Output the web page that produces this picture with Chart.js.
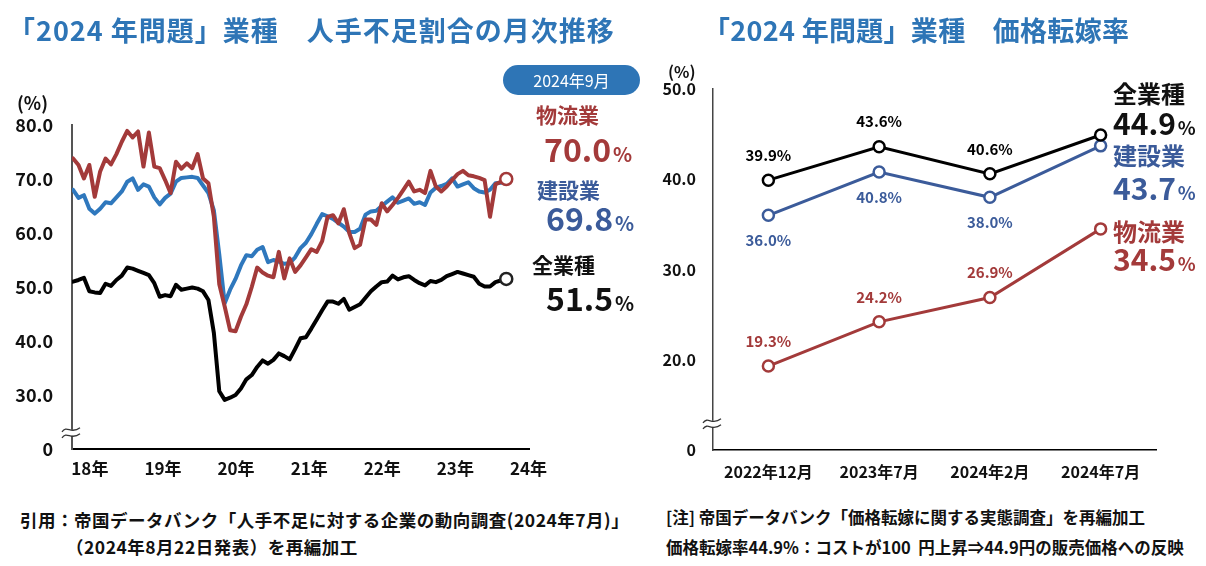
<!DOCTYPE html>
<html><head><meta charset="utf-8">
<script src="https://cdn.jsdelivr.net/npm/chart.js@4.4.0/dist/chart.umd.min.js"></script>
<style>
html,body{margin:0;padding:0;background:#fff;}
body{width:1206px;height:566px;position:relative;overflow:hidden;font-family:"Noto Sans CJK JP","Noto Sans",sans-serif;}
.t{position:absolute;white-space:nowrap;line-height:1;font-weight:bold;}
canvas{position:absolute;}
.red{color:#A33A3A;} .blue{color:#3B5B9A;} .blk{color:#111;}
.pct{font-size:0.62em;margin-left:2px;}
</style></head><body>
<canvas id="left" width="600" height="500" style="left:0;top:0;"></canvas>
<canvas id="right" width="556" height="500" style="left:650px;top:0;"></canvas>

<div class="t" style="left:8px;top:16px;font-size:27px;letter-spacing:1px;color:#2E75B6;">「2024 年問題」業種　人手不足割合の月次推移</div>
<div class="t" style="left:703px;top:16px;font-size:27px;letter-spacing:0.3px;color:#2E75B6;">「2024 年問題」業種　価格転嫁率</div>

<div class="t" style="left:17px;top:93px;font-size:18px;color:#111;">(%)</div>
<div class="t" style="left:668px;top:63px;font-size:16px;color:#111;">(%)</div>

<div class="t" style="left:503px;top:65px;width:137px;height:30px;border-radius:15px;background:#2E75B6;color:#fff;font-size:16px;font-weight:normal;text-align:center;line-height:30px;">2024年9月</div>

<div class="t red" style="left:536px;top:104px;font-size:21px;">物流業</div>
<div class="t red" style="left:544px;top:132px;font-size:32px;"><span id="lLogi"></span><span class="pct">%</span></div>
<div class="t blue" style="left:537px;top:179px;font-size:21px;">建設業</div>
<div class="t blue" style="left:546px;top:201px;font-size:32px;"><span id="lCons"></span><span class="pct">%</span></div>
<div class="t blk" style="left:532px;top:254px;font-size:21px;">全業種</div>
<div class="t blk" style="left:546px;top:281px;font-size:32px;"><span id="lAll"></span><span class="pct">%</span></div>

<div class="t blk" style="left:1113px;top:81px;font-size:24px;">全業種</div>
<div class="t blk" style="left:1113px;top:107px;font-size:30px;"><span id="rAll"></span><span class="pct">%</span></div>
<div class="t blue" style="left:1113px;top:143px;font-size:24px;">建設業</div>
<div class="t blue" style="left:1113px;top:172px;font-size:30px;"><span id="rCons"></span><span class="pct">%</span></div>
<div class="t red" style="left:1113px;top:219px;font-size:24px;">物流業</div>
<div class="t red" style="left:1113px;top:243px;font-size:30px;"><span id="rLogi"></span><span class="pct">%</span></div>

<div class="t blk" style="left:20px;top:511px;font-size:17.5px;letter-spacing:0.5px;">引用：帝国データバンク「人手不足に対する企業の動向調査(2024年7月)」</div>
<div class="t blk" style="left:66px;top:538px;font-size:17.5px;letter-spacing:0.5px;">（2024年8月22日発表）を再編加工</div>
<div class="t blk" style="left:666px;top:509px;font-size:16.5px;">[注] 帝国データバンク「価格転嫁に関する実態調査」を再編加工</div>
<div class="t blk" style="left:666px;top:539px;font-size:16.5px;">価格転嫁率44.9%：コストが100&nbsp;&nbsp;円上昇⇒44.9円の販売価格への反映</div>

<script>
// ---------- Data: monthly shortage ratio (2018/1 - 2024/9) ----------
const logistics = [73.8,72.6,70.1,72.6,66.7,71.4,73.8,72.7,74.6,76.9,
  78.9,77.7,78.8,72.3,78.6,72.3,72.0,69.8,67.4,73.2,
  71.9,72.9,72.0,74.6,70.1,69.2,63.0,50.5,46.4,42.0,
  41.8,44.5,46.8,50.0,53.6,52.7,52.1,51.8,56.5,51.6,
  55.3,52.8,54.0,55.5,57.0,56.5,58.5,63.0,63.3,61.8,
  64.4,60.0,57.2,57.8,62.5,62.5,61.5,65.5,64.0,65.2,
  66.5,68.0,69.5,67.7,68.0,67.4,71.5,68.6,67.7,68.6,
  69.8,70.9,71.5,70.7,70.5,70.2,69.8,63.0,69.0,69.5,70.0];
const construction = [68.0,66.5,67.0,64.5,63.6,64.5,65.7,65.5,66.6,67.7,
  69.5,70.1,68.0,69.0,68.6,66.6,65.3,66.5,67.3,69.5,
  70.2,70.3,70.4,70.2,68.8,67.4,64.2,56.0,47.0,49.5,
  51.5,54.0,55.9,55.7,56.9,57.4,54.6,55.0,54.7,54.3,
  54.4,55.5,57.2,58.2,59.8,61.7,63.5,63.1,62.6,61.9,
  61.2,60.2,60.2,60.8,63.4,64.0,64.1,65.0,65.8,66.6,
  65.6,66.0,66.4,65.4,65.7,65.2,67.5,68.4,68.7,69.1,
  70.1,68.6,69.0,69.4,68.3,67.7,67.5,68.0,69.2,69.3,69.8];
const allIndustry = [51.0,51.3,51.7,49.2,49.0,48.9,50.6,50.2,51.3,52.1,
  53.6,53.4,53.0,52.6,52.2,50.7,48.2,48.5,48.3,50.4,
  49.5,49.7,49.9,49.7,49.2,47.6,41.5,30.7,29.1,29.5,
  30.0,31.2,32.9,33.7,35.2,36.4,35.8,36.5,37.7,37.2,
  36.6,38.5,40.5,40.7,42.3,44.0,45.7,47.3,47.3,46.9,
  47.8,45.8,46.3,46.8,48.0,49.2,50.1,50.9,51.0,52.1,
  51.4,51.8,52.0,51.3,50.7,50.3,51.1,50.9,51.3,52.0,
  52.4,52.8,52.5,52.2,51.9,50.6,50.1,50.1,50.9,51.2,51.5];
const yearLabels = ['18年','19年','20年','21年','22年','23年','24年'];
const leftYTicks = [20,30,40,50,60,70,80]; // 20 shown as "0" (broken axis)

// ---------- Data: price pass-through rate ----------
const periods = ['2022年12月','2023年7月','2024年2月','2024年7月'];
const passAll = [39.9,43.6,40.6,44.9];
const passConstruction = [36.0,40.8,38.0,43.7];
const passLogistics = [19.3,24.2,26.9,34.5];

const RED = '#A33A3A', BLUE_L = '#2F78BD', BLUE_R = '#3B5B9A', BLACK = '#000';
const FONT = '"Noto Sans CJK JP","Noto Sans",sans-serif';
Chart.defaults.font.family = FONT;
Chart.defaults.color = '#111';

document.getElementById('lLogi').textContent = logistics[logistics.length-1].toFixed(1);
document.getElementById('lCons').textContent = construction[construction.length-1].toFixed(1);
document.getElementById('lAll').textContent = allIndustry[allIndustry.length-1].toFixed(1);
document.getElementById('rAll').textContent = passAll[3].toFixed(1);
document.getElementById('rCons').textContent = passConstruction[3].toFixed(1);
document.getElementById('rLogi').textContent = passLogistics[3].toFixed(1);

const breakPlugin = {
  id: 'axisBreak',
  afterDraw(chart, args, opts) {
    const y = chart.scales.y.getPixelForValue(opts.value);
    const x = chart.chartArea.left;
    const ctx = chart.ctx;
    ctx.save();
    ctx.fillStyle = '#fff';
    ctx.fillRect(x - 3, y - 3, 6, 6);
    ctx.strokeStyle = '#333'; ctx.lineWidth = 1.3;
    for (const dy of [-3, 3]) {
      ctx.beginPath();
      ctx.moveTo(x - 10, y + dy + 2);
      ctx.bezierCurveTo(x - 5, y + dy - 5, x - 1, y + dy + 5, x + 8, y + dy - 2);
      ctx.stroke();
    }
    ctx.restore();
  }
};

const pointLabelPlugin = {
  id: 'pointLabels',
  afterDatasetsDraw(chart) {
    const ctx = chart.ctx;
    chart.data.datasets.forEach((ds, di) => {
      const meta = chart.getDatasetMeta(di);
      meta.data.forEach((pt, i) => {
        if (i === meta.data.length - 1) return;
        ctx.save();
        ctx.font = 'bold 15px ' + FONT;
        ctx.fillStyle = ds.borderColor;
        ctx.textAlign = 'center'; ctx.textBaseline = 'middle';
        ctx.fillText(ds.data[i].toFixed(1) + '%', pt.x, pt.y + (ds.labelBelow ? 25 : -25));
        ctx.restore();
      });
    });
  }
};

const lastOnly = (arr, r) => arr.map((_, i) => i === arr.length - 1 ? r : 0);
const toXY = arr => arr.map((v, i) => ({x: i, y: v}));

new Chart(document.getElementById('left'), {
  type: 'line',
  data: {
    datasets: [
      {label: '物流業', data: toXY(logistics), borderColor: RED, borderWidth: 4,
       pointRadius: lastOnly(logistics, 6), pointBackgroundColor: '#fff', pointBorderColor: RED, pointBorderWidth: 2.5},
      {label: '建設業', data: toXY(construction), borderColor: BLUE_L, borderWidth: 4,
       pointRadius: 0},
      {label: '全業種', data: toXY(allIndustry), borderColor: BLACK, borderWidth: 4,
       pointRadius: lastOnly(allIndustry, 6), pointBackgroundColor: '#fff', pointBorderColor: '#222', pointBorderWidth: 2.5}
    ]
  },
  options: {
    responsive: false, animation: false,
    layout: {padding: {top: 125, left: 0, right: 71, bottom: 11}},
    plugins: {legend: {display: false}, tooltip: {enabled: false}, axisBreak: {value: 23}},
    elements: {line: {tension: 0, borderJoinStyle: 'round', borderCapStyle: 'round'}},
    scales: {
      x: {
        type: 'linear', min: -0.2, max: 84.2,
        grid: {display: false, drawTicks: false},
        border: {display: true, color: '#000', width: 2},
        afterBuildTicks: s => { s.ticks = yearLabels.map((_, k) => ({value: 3.1 + 13.5 * k})); },
        afterFit: s => { s.height = 40; },
        ticks: {autoSkip: false, maxRotation: 0, padding: 9, font: {size: 17, weight: 'bold'}, color: '#111',
                callback: (v, i) => yearLabels[i]}
      },
      y: {
        min: 20, max: 80,
        grid: {display: false, drawTicks: false},
        border: {display: true, color: '#555', width: 2},
        afterBuildTicks: s => { s.ticks = leftYTicks.map(v => ({value: v})); },
        afterFit: s => { s.width = 72; },
        ticks: {padding: 19, font: {size: 18, weight: 'bold'}, color: '#111',
                callback: v => v === 20 ? '0' : v.toFixed(1)}
      }
    }
  },
  plugins: [breakPlugin]
});

new Chart(document.getElementById('right'), {
  type: 'line',
  data: {
    labels: periods,
    datasets: [
      {label: '全業種', data: passAll, borderColor: BLACK, borderWidth: 3, labelBelow: false,
       pointRadius: 5.5, pointBackgroundColor: '#fff', pointBorderColor: BLACK, pointBorderWidth: 2.5},
      {label: '建設業', data: passConstruction, borderColor: BLUE_R, borderWidth: 3, labelBelow: true,
       pointRadius: 5.5, pointBackgroundColor: '#fff', pointBorderColor: BLUE_R, pointBorderWidth: 2.5},
      {label: '物流業', data: passLogistics, borderColor: RED, borderWidth: 3, labelBelow: false,
       pointRadius: 5.5, pointBackgroundColor: '#fff', pointBorderColor: RED, pointBorderWidth: 2.5}
    ]
  },
  options: {
    responsive: false, animation: false,
    layout: {padding: {top: 89, left: 0, right: 50, bottom: 10}},
    plugins: {legend: {display: false}, tooltip: {enabled: false}, axisBreak: {value: 12.9}},
    elements: {line: {tension: 0}},
    scales: {
      x: {
        type: 'category', offset: true,
        grid: {display: false, drawTicks: false},
        border: {display: true, color: '#000', width: 1.5},
        afterFit: s => { s.height = 40; },
        ticks: {padding: 12, font: {size: 16, weight: 'bold'}, color: '#111', maxRotation: 0}
      },
      y: {
        min: 10, max: 50,
        grid: {display: false, drawTicks: false},
        border: {display: true, color: '#444', width: 1.5},
        afterBuildTicks: s => { s.ticks = [10,20,30,40,50].map(v => ({value: v})); },
        afterFit: s => { s.width = 63; },
        ticks: {padding: 17, font: {size: 16, weight: 'bold'}, color: '#111',
                callback: v => v === 10 ? '0' : v.toFixed(1)}
      }
    }
  },
  plugins: [breakPlugin, pointLabelPlugin]
});
</script>
</body></html>
